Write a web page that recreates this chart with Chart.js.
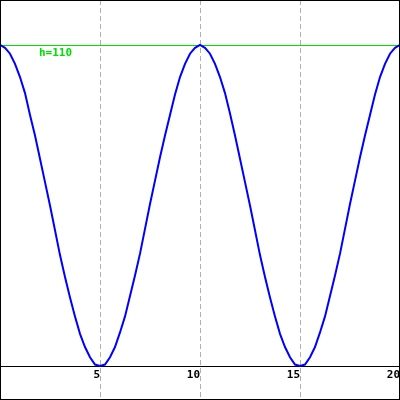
<!DOCTYPE html>
<html>
<head>
<meta charset="utf-8">
<script src="https://cdn.jsdelivr.net/npm/chart.js@4"></script>
<style>
  html, body { margin: 0; padding: 0; background: #fff; }
  #wrap { width: 400px; height: 400px; position: relative; }
</style>
</head>
<body>
<div id="wrap"><canvas id="c" width="400" height="400"></canvas></div>
<script>
// ---- data ----
const xValues = [
  0, 0.25, 0.5, 0.75, 1, 1.25, 1.5, 1.75, 2, 2.25, 2.5, 2.75, 3, 3.25, 3.5, 3.75, 4, 4.25, 4.5, 4.75,
  5, 5.25, 5.5, 5.75, 6, 6.25, 6.5, 6.75, 7, 7.25, 7.5, 7.75, 8, 8.25, 8.5, 8.75, 9, 9.25, 9.5, 9.75,
  10, 10.25, 10.5, 10.75, 11, 11.25, 11.5, 11.75, 12, 12.25, 12.5, 12.75, 13, 13.25, 13.5, 13.75, 14, 14.25, 14.5, 14.75,
  15, 15.25, 15.5, 15.75, 16, 16.25, 16.5, 16.75, 17, 17.25, 17.5, 17.75, 18, 18.25, 18.5, 18.75, 19, 19.25, 19.5, 19.75, 20
];
const hValues = [
  110, 109, 107, 103.5, 99, 93.5, 86, 79, 71, 63, 55, 46.5, 38, 30.5, 23.5, 17, 11, 6.5, 3, 0.5,
  0, 0.5, 3, 6.5, 11.5, 17, 24, 31, 38.5, 47, 55.5, 63.5, 71.5, 79, 86, 93, 99, 103.5, 107, 109,
  110, 109, 107, 103.5, 99, 93.5, 86.5, 79, 71, 63, 55, 46.5, 38, 30.5, 23.5, 17, 11, 6.5, 3, 0.5,
  0, 0.5, 3, 6.5, 11.5, 17, 24, 31, 38.5, 47, 55.5, 63.5, 71.5, 79, 86, 93, 99, 103.5, 107, 109, 110
];
const xTickValues = [5, 10, 15, 20];
const refLevel = 110;
const refLabel = 'h=110';

const FONT = '"DejaVu Sans Mono", "Liberation Mono", monospace';

const framePlugin = {
  id: 'frame',
  beforeDatasetsDraw(chart) {
    const ctx = chart.ctx;
    const xs = chart.scales.x, ys = chart.scales.y;
    ctx.save();
    ctx.strokeStyle = '#b0b0b0';
    ctx.lineWidth = 1;
    ctx.setLineDash([5, 3]);
    xs.ticks.forEach((t) => {
      if (t.value <= xs.min) return;
      const px = Math.min(Math.round(xs.getPixelForValue(t.value)), chart.width - 1) + 0.5;
      ctx.beginPath();
      ctx.moveTo(px, 0);
      ctx.lineTo(px, chart.height);
      ctx.stroke();
    });
    ctx.setLineDash([]);
    const py = Math.round(ys.getPixelForValue(refLevel)) + 0.5;
    ctx.strokeStyle = '#00e000';
    ctx.beginPath();
    ctx.moveTo(0, py);
    ctx.lineTo(chart.width, py);
    ctx.stroke();
    ctx.fillStyle = '#00e000';
    ctx.font = 'bold 11px ' + FONT;
    ctx.textBaseline = 'top';
    ctx.textAlign = 'left';
    ctx.fillText(refLabel, xs.getPixelForValue(1.95), py + 2);
    ctx.restore();
  },
  afterDraw(chart) {
    const ctx = chart.ctx;
    ctx.save();
    ctx.strokeStyle = '#000';
    ctx.lineWidth = 1;
    ctx.strokeRect(0.5, 0.5, chart.width - 1, chart.height - 1);
    ctx.restore();
  }
};

new Chart(document.getElementById('c'), {
  type: 'line',
  data: {
    datasets: [{
      data: xValues.map((x, i) => ({ x: x, y: hValues[i] })),
      borderColor: '#0000ff',
      borderWidth: 2,
      pointRadius: 0,
      tension: 0,
      fill: false,
      clip: false
    }]
  },
  options: {
    responsive: false,
    animation: false,
    devicePixelRatio: 1,
    layout: { padding: 0, autoPadding: false },
    plugins: { legend: { display: false }, tooltip: { enabled: false } },
    scales: {
      x: {
        type: 'linear',
        min: 0,
        max: 20,
        afterBuildTicks(scale) {
          scale.ticks = [0].concat(xTickValues).map(v => ({ value: v }));
        },
        afterFit(scale) {
          scale.height = 34;
          scale.paddingLeft = 0;
          scale.paddingRight = 0;
        },
        grid: { display: false, drawTicks: false },
        border: { display: true, color: '#000', width: 1 },
        ticks: {
          align: 'end',
          padding: 3,
          color: '#000',
          font: { family: FONT, size: 11, weight: 'bold' },
          callback: v => (v === 0 ? '' : String(v)),
          maxRotation: 0,
          autoSkip: false
        }
      },
      y: {
        display: false,
        min: 0,
        max: 125.4
      }
    }
  },
  plugins: [framePlugin]
});
</script>
</body>
</html>
